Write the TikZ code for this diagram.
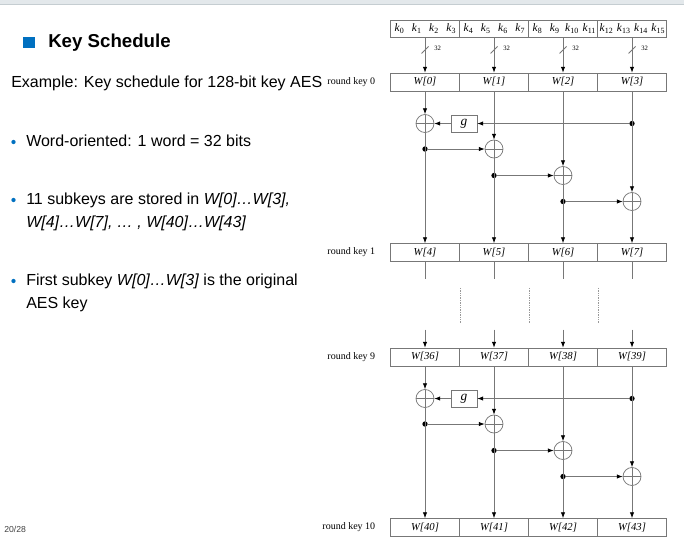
\documentclass[tikz,border=0pt]{standalone}
\usepackage{fontspec}
\setmainfont{Liberation Sans}
\newfontfamily\timesfont{Liberation Serif}
\usetikzlibrary{positioning,arrows.meta}
\definecolor{slideblue}{HTML}{0070C0}
\definecolor{bandgray}{HTML}{E3E8EB}
\definecolor{bandline}{HTML}{C5CDD1}
\definecolor{wirecol}{HTML}{777777}

\begin{document}
\begin{tikzpicture}[x=0.75pt, y=-0.75pt,
  ln/.style={draw=wirecol, line width=0.55pt},
  arr/.style={ln, -{Latex[length=4.4pt, width=3.3pt, color=black]}},
  wcell/.style={ln, minimum width=51.75pt, minimum height=13.5pt, inner sep=0pt, font=\timesfont\fontsize{8}{9}\selectfont\itshape},
  kcell/.style={wcell, minimum height=13.1pt},
  klab/.style={inner sep=0pt, font=\timesfont\fontsize{8.5}{9}\selectfont},
  xorc/.style={circle, ln, minimum size=13.5pt, inner sep=0pt,
    path picture={\draw[ln] (path picture bounding box.north) -- (path picture bounding box.south)
      (path picture bounding box.west) -- (path picture bounding box.east);}},
  gbox/.style={ln, minimum width=19.5pt, minimum height=12.75pt, inner sep=0pt, font=\timesfont\fontsize{10}{10}\selectfont\itshape},
  dot/.style={circle, fill=black, inner sep=0pt, minimum size=4pt},
  rk/.style={inner sep=0pt, font=\timesfont\fontsize{7.5}{8}\selectfont},
  body/.style={anchor=base west, inner sep=0pt, font=\fontsize{12}{14}\selectfont},
  bul/.style={circle, fill=slideblue, inner sep=0pt, minimum size=3.2pt},
]
\useasboundingbox (0,0) rectangle (684,543);

% slide frame and text
\fill[bandgray] (0,0) rectangle (684,4);
\draw[bandline] (0,4.5) -- (684,4.5);
\fill[slideblue] (23,37) rectangle (35,48);
\node[anchor=base west, inner sep=0pt, font=\bfseries\fontsize{14}{16}\selectfont] (title) at (48,47.5) {Key Schedule};
\node[body] (intro) at (11,87) {Example: Key schedule for 128-bit key AES};
\node[bul] (u1) at (13.5,142) {};
\node[body] (b1) at (26,146.5) {Word-oriented: 1 word = 32 bits};
\node[bul] (u2) at (13.5,200) {};
\node[body] (b2) at (26,204.5) {11 subkeys are stored in \textit{W[0]…W[3],}};
\node[body] (b2b) at (26,227.5) {\textit{W[4]…W[7], … , W[40]…W[43]}};
\node[bul] (u3) at (13.5,281) {};
\node[body] (b3) at (26,285.5) {First subkey \textit{W[0]…W[3]} is the original};
\node[body] (b3b) at (26,308.5) {AES key};
\node[anchor=base west, inner sep=0pt, font=\fontsize{6.5}{7}\selectfont, text=black!75] (page) at (4,532) {20/28};

% key bytes
\node[kcell] (kg0) at (425,28.75) {};
\node[kcell] (kg1) at (494,28.75) {};
\node[kcell] (kg2) at (563,28.75) {};
\node[kcell] (kg3) at (632,28.75) {};
\foreach \i in {0,...,15}
  \node[klab] (k\i) at ({399.6+17.25*\i},28.5) {\textit{k}\textsubscript{\i}};

% round key 0
\node[wcell] (w0) at (425,82) {W[0]};
\node[wcell] (w1) at (494,82) {W[1]};
\node[wcell] (w2) at (563,82) {W[2]};
\node[wcell] (w3) at (632,82) {W[3]};
\node[rk, left=11pt of w0] (rk0) {round key 0};

\foreach \i/\x in {0/425,1/494,2/563,3/632} {
  \coordinate (s\i) at (\x,50);
  \draw[arr] (kg\i.south) -- (w\i.north);
  \draw[ln] ([shift={(-3.5,3.5)}]s\i) -- ([shift={(3.5,-3.5)}]s\i);
  \node[inner sep=0pt, anchor=west, font=\timesfont\fontsize{5}{6}\selectfont] at ([shift={(9,-1.5)}]s\i) {32};
}

% round 0 -> round 1
\node[xorc] (x1a) at (425,123.5) {};
\node[gbox] (ga) at (464,123.5) {g};
\node[dot] (p0a) at (632,123.5) {};
\node[xorc] (x2a) at (494,149) {};
\node[xorc] (x3a) at (563,175.5) {};
\node[xorc] (x4a) at (632,201.5) {};
\node[dot] (p1a) at (x1a |- x2a) {};
\node[dot] (p2a) at (x2a |- x3a) {};
\node[dot] (p3a) at (x3a |- x4a) {};

\node[wcell] (w4) at (425,252.5) {W[4]};
\node[wcell] (w5) at (494,252.5) {W[5]};
\node[wcell] (w6) at (563,252.5) {W[6]};
\node[wcell] (w7) at (632,252.5) {W[7]};
\node[rk, left=11pt of w4] (rk1) {round key 1};

\draw[arr] (w0.south) -- (x1a.north);
\draw[arr] (x1a.south) -- (w4.north);
\draw[arr] (w1.south) -- (x2a.north);
\draw[arr] (x2a.south) -- (w5.north);
\draw[arr] (w2.south) -- (x3a.north);
\draw[arr] (x3a.south) -- (w6.north);
\draw[arr] (w3.south) -- (x4a.north);
\draw[arr] (x4a.south) -- (w7.north);
\draw[arr] (p0a) -- (ga.east);
\draw[arr] (ga.west) -- (x1a.east);
\draw[arr] (p1a) -- (x2a.west);
\draw[arr] (p2a) -- (x3a.west);
\draw[arr] (p3a) -- (x4a.west);

% skipped rounds
\path (w4.south) ++(0,17) coordinate (e4);
\path (w5.south) ++(0,17) coordinate (e5);
\path (w6.south) ++(0,17) coordinate (e6);
\path (w7.south) ++(0,17) coordinate (e7);
\draw[ln] (w4.south) -- (e4);
\draw[ln] (w5.south) -- (e5);
\draw[ln] (w6.south) -- (e6);
\draw[ln] (w7.south) -- (e7);
\path (w4.south east) ++(0,26) coordinate (v1t) ++(0,35) coordinate (v1b);
\path (w5.south east) ++(0,26) coordinate (v2t) ++(0,35) coordinate (v2b);
\path (w6.south east) ++(0,26) coordinate (v3t) ++(0,35) coordinate (v3b);
\draw[ln, draw=black!40, dash pattern=on 1pt off 0.8pt] (v1t) -- (v1b);
\draw[ln, draw=black!40, dash pattern=on 1pt off 0.8pt] (v2t) -- (v2b);
\draw[ln, draw=black!40, dash pattern=on 1pt off 0.8pt] (v3t) -- (v3b);

\begin{scope}[shift={(0,275)}]
\node[wcell] (w36) at (425,82) {W[36]};
\node[wcell] (w37) at (494,82) {W[37]};
\node[wcell] (w38) at (563,82) {W[38]};
\node[wcell] (w39) at (632,82) {W[39]};
\node[rk, left=11pt of w36] (rk9) {round key 9};

\node[xorc] (x1b) at (425,123.5) {};
\node[gbox] (gb) at (464,123.5) {g};
\node[dot] (p0b) at (632,123.5) {};
\node[xorc] (x2b) at (494,149) {};
\node[xorc] (x3b) at (563,175.5) {};
\node[xorc] (x4b) at (632,201.5) {};
\node[dot] (p1b) at (x1b |- x2b) {};
\node[dot] (p2b) at (x2b |- x3b) {};
\node[dot] (p3b) at (x3b |- x4b) {};

\node[wcell] (w40) at (425,252.5) {W[40]};
\node[wcell] (w41) at (494,252.5) {W[41]};
\node[wcell] (w42) at (563,252.5) {W[42]};
\node[wcell] (w43) at (632,252.5) {W[43]};
\node[rk, left=11pt of w40] (rk10) {round key 10};
\end{scope}

\path (w36.north) ++(0,-18) coordinate (f36);
\path (w37.north) ++(0,-18) coordinate (f37);
\path (w38.north) ++(0,-18) coordinate (f38);
\path (w39.north) ++(0,-18) coordinate (f39);
\draw[arr] (f36) -- (w36.north);
\draw[arr] (f37) -- (w37.north);
\draw[arr] (f38) -- (w38.north);
\draw[arr] (f39) -- (w39.north);

\draw[arr] (w36.south) -- (x1b.north);
\draw[arr] (x1b.south) -- (w40.north);
\draw[arr] (w37.south) -- (x2b.north);
\draw[arr] (x2b.south) -- (w41.north);
\draw[arr] (w38.south) -- (x3b.north);
\draw[arr] (x3b.south) -- (w42.north);
\draw[arr] (w39.south) -- (x4b.north);
\draw[arr] (x4b.south) -- (w43.north);
\draw[arr] (p0b) -- (gb.east);
\draw[arr] (gb.west) -- (x1b.east);
\draw[arr] (p1b) -- (x2b.west);
\draw[arr] (p2b) -- (x3b.west);
\draw[arr] (p3b) -- (x4b.west);
\end{tikzpicture}
\end{document}
